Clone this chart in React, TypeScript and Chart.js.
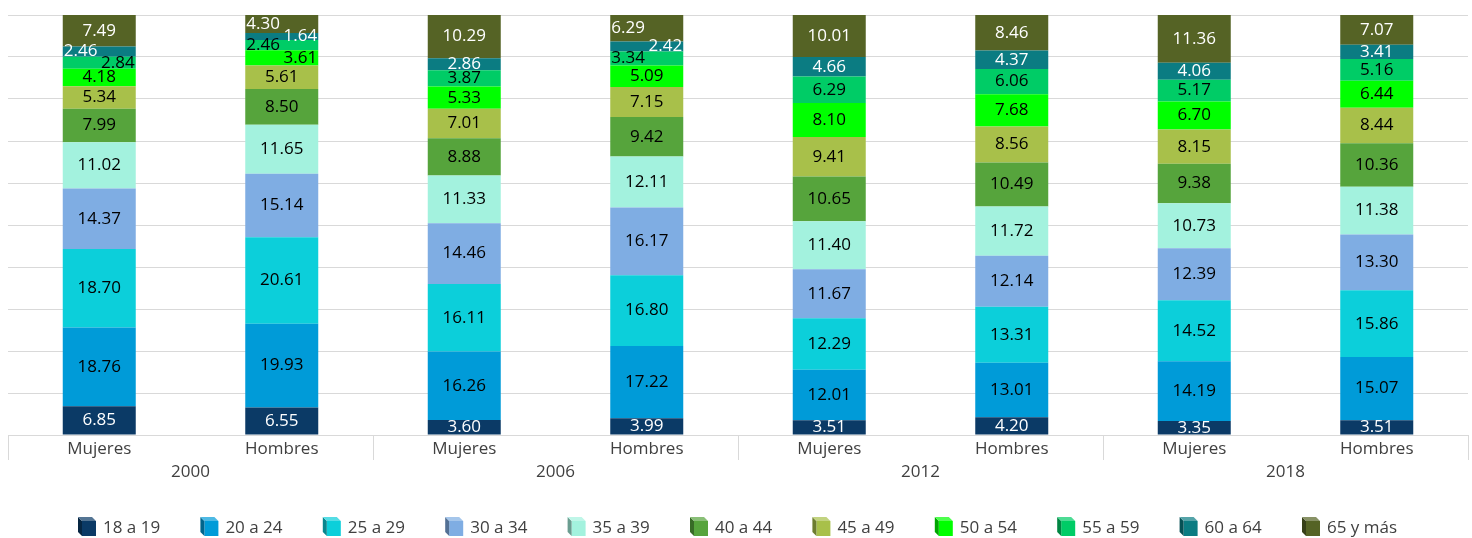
import React, { useEffect, useRef } from "react";
import { Chart, registerables } from "chart.js";

Chart.register(...registerables);

const categories = ["Mujeres", "Hombres", "Mujeres", "Hombres", "Mujeres", "Hombres", "Mujeres", "Hombres"];
const years = ["2000", "2006", "2012", "2018"];
const seriesNames = ["18 a 19", "20 a 24", "25 a 29", "30 a 34", "35 a 39", "40 a 44", "45 a 49", "50 a 54", "55 a 59", "60 a 64", "65 y más"];

const s18a19 = [6.85, 6.55, 3.6, 3.99, 3.51, 4.2, 3.35, 3.51];
const s20a24 = [18.76, 19.93, 16.26, 17.22, 12.01, 13.01, 14.19, 15.07];
const s25a29 = [18.7, 20.61, 16.11, 16.8, 12.29, 13.31, 14.52, 15.86];
const s30a34 = [14.37, 15.14, 14.46, 16.17, 11.67, 12.14, 12.39, 13.3];
const s35a39 = [11.02, 11.65, 11.33, 12.11, 11.4, 11.72, 10.73, 11.38];
const s40a44 = [7.99, 8.5, 8.88, 9.42, 10.65, 10.49, 9.38, 10.36];
const s45a49 = [5.34, 5.61, 7.01, 7.15, 9.41, 8.56, 8.15, 8.44];
const s50a54 = [4.18, 3.61, 5.33, 5.09, 8.1, 7.68, 6.7, 6.44];
const s55a59 = [2.84, 2.46, 3.87, 3.34, 6.29, 6.06, 5.17, 5.16];
const s60a64 = [2.46, 1.64, 2.86, 2.42, 4.66, 4.37, 4.06, 3.41];
const s65ymas = [7.49, 4.3, 10.29, 6.29, 10.01, 8.46, 11.36, 7.07];

const seriesValues = [s18a19, s20a24, s25a29, s30a34, s35a39, s40a44, s45a49, s50a54, s55a59, s60a64, s65ymas];

const colors = ["#0b3a66", "#009bd8", "#0ccfda", "#7fade3", "#a3f2de", "#56a43c", "#a8c04a", "#00ff00", "#00cc66", "#0b7c82", "#556325"];
const labelColors = ["#ffffff", "#000000", "#000000", "#000000", "#000000", "#000000", "#000000", "#000000", "#000000", "#ffffff", "#ffffff"];

const FONT = "'Open Sans', 'Noto Sans', sans-serif";
const TEXT_GRAY = "#404040";
const LINE_GRAY = "#d9d9d9";

function shade(hex: string, f: number): string {
  const n = parseInt(hex.slice(1), 16);
  let r = (n >> 16) & 255, g = (n >> 8) & 255, b = n & 255;
  if (f < 0) {
    r = Math.round(r * (1 + f)); g = Math.round(g * (1 + f)); b = Math.round(b * (1 + f));
  } else {
    r = Math.round(r + (255 - r) * f); g = Math.round(g + (255 - g) * f); b = Math.round(b + (255 - b) * f);
  }
  return `rgb(${r},${g},${b})`;
}

const labelsPlugin = {
  id: "segLabels",
  afterDatasetsDraw(chart: any) {
    const ctx = chart.ctx;
    const n = chart.data.labels.length;
    const dsCount = chart.data.datasets.length;
    ctx.save();
    ctx.font = `17px ${FONT}`;
    ctx.textBaseline = "middle";
    for (let i = 0; i < n; i++) {
      const items: any[] = [];
      for (let d = 0; d < dsCount; d++) {
        const el = chart.getDatasetMeta(d).data[i];
        const props = el.getProps(["x", "y", "base", "width"], true);
        items.push({
          d,
          cy: (props.y + props.base) / 2,
          x: props.x,
          w: props.width,
          v: chart.data.datasets[d].data[i],
          align: "center",
          group: -1,
        });
      }
      // detect crowded chains of labels (bottom to top)
      let gid = -1;
      let active = false;
      for (let k = 1; k < items.length; k++) {
        const gap = items[k - 1].cy - items[k].cy;
        if (!active && gap < 14) {
          gid++;
          items[k - 1].group = gid;
          items[k].group = gid;
          active = true;
        } else if (active && gap < 19) {
          items[k].group = gid;
        } else {
          active = false;
        }
      }
      for (let g = 0; g <= gid; g++) {
        const members = items.filter((it) => it.group === g).reverse();
        members.forEach((it, idx) => {
          it.align = idx % 2 === 0 ? "left" : "right";
        });
      }
      for (const it of items) {
        ctx.fillStyle = labelColors[it.d];
        let tx = it.x;
        if (it.align === "left") {
          ctx.textAlign = "left";
          tx = it.x - it.w / 2 + 1;
        } else if (it.align === "right") {
          ctx.textAlign = "right";
          tx = it.x + it.w / 2 - 1;
        } else {
          ctx.textAlign = "center";
        }
        ctx.fillText(Number(it.v).toFixed(2), tx, it.cy);
      }
    }
    ctx.restore();
  },
  afterDraw(chart: any) {
    const ctx = chart.ctx;
    const area = chart.chartArea;
    const xs = chart.scales.x;
    ctx.save();
    // axis line
    ctx.strokeStyle = LINE_GRAY;
    ctx.lineWidth = 1;
    ctx.beginPath();
    ctx.moveTo(area.left, Math.round(area.bottom) + 0.5);
    ctx.lineTo(area.right, Math.round(area.bottom) + 0.5);
    ctx.stroke();
    // group separators
    const gw = (area.right - area.left) / years.length;
    for (let g = 0; g <= years.length; g++) {
      const x = Math.round(area.left + g * gw) + 0.5;
      ctx.beginPath();
      ctx.moveTo(x, area.bottom);
      ctx.lineTo(x, area.bottom + 25);
      ctx.stroke();
    }
    ctx.fillStyle = TEXT_GRAY;
    ctx.font = `17px ${FONT}`;
    ctx.textAlign = "center";
    ctx.textBaseline = "middle";
    categories.forEach((c, i) => {
      ctx.fillText(c, xs.getPixelForValue(i), area.bottom + 14);
    });
    years.forEach((y, g) => {
      ctx.fillText(y, area.left + (g + 0.5) * gw, area.bottom + 37);
    });
    // legend with cube markers
    const step = 122.4;
    const startX = 78;
    const top = 517;
    ctx.textAlign = "left";
    seriesNames.forEach((name, k) => {
      const x = startX + k * step;
      const c = colors[k];
      ctx.fillStyle = c;
      ctx.fillRect(x + 4, top + 4, 14, 15);
      ctx.fillStyle = shade(c, -0.35);
      ctx.beginPath();
      ctx.moveTo(x, top);
      ctx.lineTo(x + 4, top + 4);
      ctx.lineTo(x + 4, top + 19);
      ctx.lineTo(x, top + 15);
      ctx.closePath();
      ctx.fill();
      ctx.fillStyle = shade(c, 0.3);
      ctx.beginPath();
      ctx.moveTo(x, top);
      ctx.lineTo(x + 14, top);
      ctx.lineTo(x + 18, top + 4);
      ctx.lineTo(x + 4, top + 4);
      ctx.closePath();
      ctx.fill();
      ctx.fillStyle = TEXT_GRAY;
      ctx.textBaseline = "middle";
      ctx.fillText(name, x + 25, top + 11);
    });
    ctx.restore();
  },
};

export default function App() {
  const canvasRef = useRef<HTMLCanvasElement | null>(null);
  useEffect(() => {
    if (!canvasRef.current) return;
    const chart = new Chart(canvasRef.current, {
      type: "bar",
      data: {
        labels: categories,
        datasets: seriesValues.map((vals, k) => ({
          label: seriesNames[k],
          data: vals,
          backgroundColor: colors[k],
          borderWidth: 0,
          barPercentage: 0.4,
          categoryPercentage: 1.0,
        })),
      },
      options: {
        responsive: false,
        animation: false,
        devicePixelRatio: 1,
        layout: { padding: { left: 8, right: 4, top: 15, bottom: 103 } },
        plugins: {
          legend: { display: false },
          tooltip: { enabled: false },
          title: { display: false },
        },
        scales: {
          x: { stacked: true, display: false },
          y: {
            stacked: true,
            min: 0,
            max: 100,
            ticks: { display: false, stepSize: 10 },
            grid: { color: LINE_GRAY, drawTicks: false, lineWidth: 1 },
            border: { display: false },
          },
        },
      },
      plugins: [labelsPlugin],
    });
    return () => chart.destroy();
  }, []);
  return (
    <div style={{ position: "fixed", left: 0, top: 0, width: 1472, height: 538, background: "#fff" }}>
      <canvas ref={canvasRef} width={1472} height={538} />
    </div>
  );
}
